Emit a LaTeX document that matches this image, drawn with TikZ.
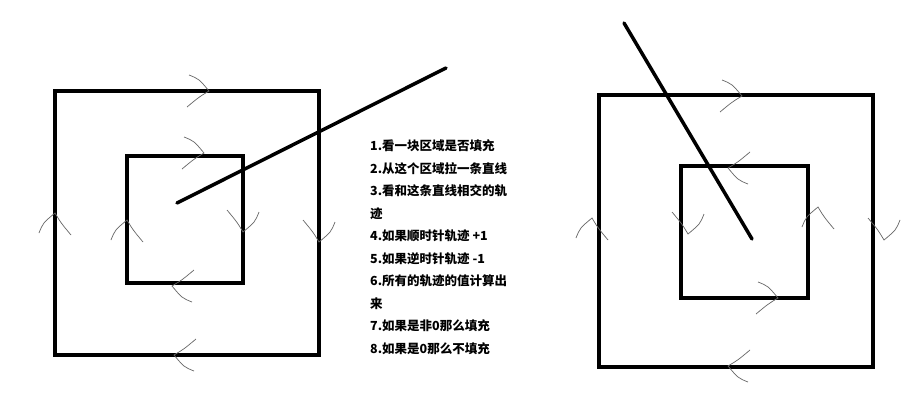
\documentclass[tikz,border=0pt]{standalone}
\usepackage{fontspec}
\newfontfamily\cjk{Noto Sans CJK SC}
\begin{document}
\begin{tikzpicture}[x=1pt,y=-1pt,
  sq/.style={line width=3.5pt,draw=black},
  ray/.style={line width=3.5pt,line cap=round},
  chev/.pic={\draw[gray!80!black,line width=0.7pt] (-20,-16) .. controls (-10,-12) .. (0,0) .. controls (-10,6) .. (-22,16);},
  txt/.style={anchor=west,inner sep=0pt,font=\cjk\bfseries\fontsize{12.5}{14}\selectfont}]
\useasboundingbox[fill=white] (0,0) rectangle (901,402);
% left
\node[sq,minimum width=264pt,minimum height=264pt,inner sep=0pt] (LO) at (187,223) {};
\node[sq,minimum width=116pt,minimum height=127pt,inner sep=0pt] (LI) at (185,219.5) {};
\coordinate (L1) at (177,203); \coordinate (L2) at (446,68);
\draw[ray] (L1) -- (L2);
\pic[rotate=0] at (209,91) {chev};
\pic[rotate=180] at (174,355) {chev};
\pic[rotate=90] at (55,213) {chev};
\pic[rotate=-90] at (319,242) {chev};
\pic[rotate=0] at (204,153) {chev};
\pic[rotate=180] at (172,286) {chev};
\pic[rotate=90] at (127,220) {chev};
\pic[rotate=-90] at (243,232) {chev};
% right
\node[sq,minimum width=274pt,minimum height=272pt,inner sep=0pt] (RO) at (736,231) {};
\node[sq,minimum width=127pt,minimum height=132pt,inner sep=0pt] (RI) at (744.5,232) {};
\coordinate (R1) at (624,23); \coordinate (R2) at (752,239);
\draw[ray] (R1) -- (R2);
\pic[rotate=0] at (742,96) {chev};
\pic[rotate=180] at (728,366) {chev};
\pic[rotate=90] at (592,218) {chev};
\pic[rotate=-90] at (884,240) {chev};
\pic[rotate=180] at (728,168) {chev};
\pic[rotate=0] at (778,298) {chev};
\pic[rotate=-90] at (688,234) {chev};
\pic[rotate=90] at (818,207) {chev};
% text
\node[txt] (t1) at (370,146) {1.看一块区域是否填充};
\node[txt] (t2) at (370,168.5) {2.从这个区域拉一条直线};
\node[txt] (t3) at (370,191) {3.看和这条直线相交的轨};
\node[txt] (t3b) at (370,213.5) {迹};
\node[txt] (t4) at (370,236) {4.如果顺时针轨迹 +1};
\node[txt] (t5) at (370,258.5) {5.如果逆时针轨迹 -1};
\node[txt] (t6) at (370,281) {6.所有的轨迹的值计算出};
\node[txt] (t6b) at (370,303.5) {来};
\node[txt] (t7) at (370,326) {7.如果是非0那么填充};
\node[txt] (t8) at (370,348.5) {8.如果是0那么不填充};
\end{tikzpicture}
\end{document}
